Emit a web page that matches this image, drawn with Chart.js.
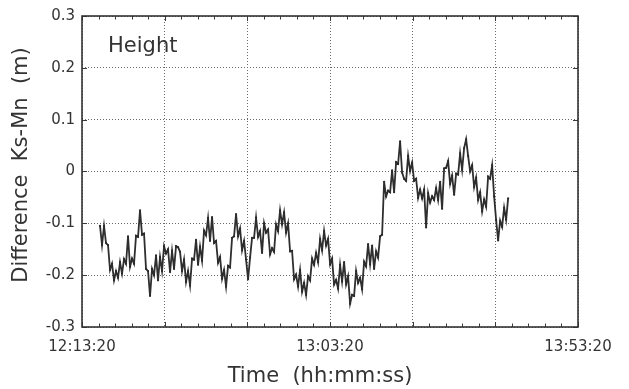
<!DOCTYPE html>
<html>
<head>
<meta charset="utf-8">
<script src="https://cdn.jsdelivr.net/npm/chart.js@4/dist/chart.umd.min.js"></script>
<style>
  html, body { margin: 0; padding: 0; background: #ffffff; }
  #wrap { width: 629px; height: 389px; }
</style>
</head>
<body>
<div id="wrap"><canvas id="c" width="629" height="389"></canvas></div>
<script>
// Height difference Ks-Mn (m), one sample every stepSec seconds from startSec
// (seconds after 12:13:20).
const startSec = 218;
const stepSec = 24.2;
const heightDiff = [
  -0.105, -0.142, -0.105, -0.138, -0.142, -0.190, -0.178, -0.210, -0.192, -0.205,
  -0.175, -0.197, -0.169, -0.178, -0.125, -0.184, -0.168, -0.178, -0.124, -0.126,
  -0.075, -0.122, -0.120, -0.188, -0.192, -0.240, -0.188, -0.200, -0.162, -0.210,
  -0.165, -0.192, -0.144, -0.158, -0.150, -0.194, -0.153, -0.188, -0.144, -0.146,
  -0.155, -0.192, -0.170, -0.213, -0.192, -0.220, -0.168, -0.170, -0.132, -0.180,
  -0.145, -0.172, -0.114, -0.123, -0.090, -0.134, -0.088, -0.138, -0.134, -0.176,
  -0.165, -0.207, -0.190, -0.222, -0.182, -0.185, -0.128, -0.125, -0.082, -0.125,
  -0.110, -0.152, -0.134, -0.170, -0.208, -0.166, -0.128, -0.128, -0.089, -0.126,
  -0.115, -0.157, -0.100, -0.118, -0.112, -0.160, -0.148, -0.155, -0.102, -0.115,
  -0.075, -0.102, -0.079, -0.118, -0.100, -0.154, -0.153, -0.208, -0.199, -0.222,
  -0.190, -0.232, -0.215, -0.238, -0.202, -0.210, -0.168, -0.180, -0.157, -0.175,
  -0.130, -0.152, -0.115, -0.143, -0.130, -0.179, -0.168, -0.218, -0.209, -0.226,
  -0.180, -0.212, -0.175, -0.218, -0.202, -0.255, -0.238, -0.240, -0.192, -0.215,
  -0.205, -0.227, -0.174, -0.183, -0.140, -0.179, -0.143, -0.188, -0.154, -0.166,
  -0.125, -0.122, -0.020, -0.048, -0.037, -0.040,  0.002, -0.040,  0.018,  0.015,
   0.058, -0.002, -0.014, -0.018,  0.030,  0.001,  0.017, -0.018, -0.014, -0.051,
  -0.035, -0.052, -0.035, -0.108, -0.042, -0.060, -0.048, -0.055, -0.032, -0.055,
  -0.020, -0.072,  0.006,  0.007,  0.020, -0.024, -0.008, -0.045, -0.004, -0.006,
   0.035,  0.003,  0.045,  0.062,  0.030,  0.000,  0.012, -0.030, -0.012, -0.055,
  -0.040, -0.077, -0.054, -0.068, -0.010, -0.014,  0.012, -0.048, -0.094, -0.133,
  -0.095, -0.107, -0.070, -0.093, -0.052
];

// Axis ranges and tick steps
const timeMin = 0, timeMax = 6000, timeStep = 1000, timeLabelStep = 3000, timeMinorStep = 200;
const clockStart = 12 * 3600 + 13 * 60 + 20;   // 12:13:20
const yMin = -0.3, yMax = 0.3, yStep = 0.1;

const seriesLabel = 'Height';
const xTitle = 'Time  (hh:mm:ss)';
const yTitle = 'Difference  Ks-Mn  (m)';

const ink = '#333333';
const fontFamily = '"DejaVu Sans", Verdana, sans-serif';

function clock(sec) {
  const t = clockStart + sec;
  const h = Math.floor(t / 3600), m = Math.floor((t % 3600) / 60), s = Math.round(t % 60);
  const p = n => String(n).padStart(2, '0');
  return h + ':' + p(m) + ':' + p(s);
}

const points = heightDiff.map((v, i) => ({ x: startSec + i * stepSec, y: v }));

// Frame, inward tick marks and the free-standing texts
const decorations = {
  id: 'decorations',
  afterDraw(chart) {
    const { ctx, chartArea: a, scales: { x, y } } = chart;
    ctx.save();
    ctx.strokeStyle = '#3a3a3a';
    ctx.lineWidth = 1;
    ctx.beginPath();
    for (let t = timeMin; t <= timeMax + 1e-6; t += timeMinorStep) {
      const px = Math.round(x.getPixelForValue(t)) + 0.5;
      const len = (t % timeStep === 0) ? 5 : 3.5;
      ctx.moveTo(px, a.bottom); ctx.lineTo(px, a.bottom - len);
      ctx.moveTo(px, a.top); ctx.lineTo(px, a.top + len);
    }
    for (let v = yMin; v <= yMax + 1e-6; v += yStep) {
      const py = Math.round(y.getPixelForValue(v)) + 0.5;
      ctx.moveTo(a.left, py); ctx.lineTo(a.left + 5, py);
      ctx.moveTo(a.right, py); ctx.lineTo(a.right - 5, py);
    }
    ctx.stroke();

    ctx.lineWidth = 1.6;
    ctx.strokeStyle = '#333333';
    ctx.strokeRect(a.left, a.top, a.right - a.left, a.bottom - a.top);

    ctx.fillStyle = ink;
    ctx.font = '21px ' + fontFamily;
    ctx.textAlign = 'left';
    ctx.textBaseline = 'middle';
    ctx.fillText(seriesLabel, a.left + 26, a.top + 31);

    ctx.textAlign = 'center';
    ctx.fillText(xTitle, 320, 377);

    ctx.translate(22, 165);
    ctx.rotate(-Math.PI / 2);
    ctx.fillText(yTitle, 0, 0);
    ctx.restore();
  }
};

new Chart(document.getElementById('c'), {
  type: 'line',
  data: {
    datasets: [{
      label: seriesLabel,
      data: points,
      borderColor: '#2e2e2e',
      borderWidth: 1.8,
      pointRadius: 1.1,
      pointBorderWidth: 0,
      pointBackgroundColor: '#2a2a2a',
      tension: 0,
      fill: false
    }]
  },
  options: {
    responsive: false,
    animation: false,
    layout: { padding: { left: 0, right: 51, top: 16, bottom: 0 } },
    plugins: { legend: { display: false }, tooltip: { enabled: false } },
    scales: {
      x: {
        type: 'linear',
        min: timeMin, max: timeMax,
        afterFit(s) { s.height = 62; },
        grid: { color: '#6a6a6a', lineWidth: 1, drawTicks: false },
        border: { display: false, dash: [1, 2] },
        ticks: {
          stepSize: timeStep,
          autoSkip: false,
          maxRotation: 0,
          padding: 11,
          color: ink,
          font: { family: fontFamily, size: 15 },
          callback: v => (v % timeLabelStep === 0 ? clock(v) : '')
        }
      },
      y: {
        type: 'linear',
        min: yMin, max: yMax,
        afterFit(s) { s.width = 82; },
        grid: { color: '#6a6a6a', lineWidth: 1, drawTicks: false },
        border: { display: false, dash: [1, 2] },
        ticks: {
          stepSize: yStep,
          padding: 7,
          color: ink,
          font: { family: fontFamily, size: 15 },
          callback: v => (Math.abs(v) < 1e-9 ? '0' : v.toFixed(1))
        }
      }
    }
  },
  plugins: [decorations]
});
</script>
</body>
</html>
